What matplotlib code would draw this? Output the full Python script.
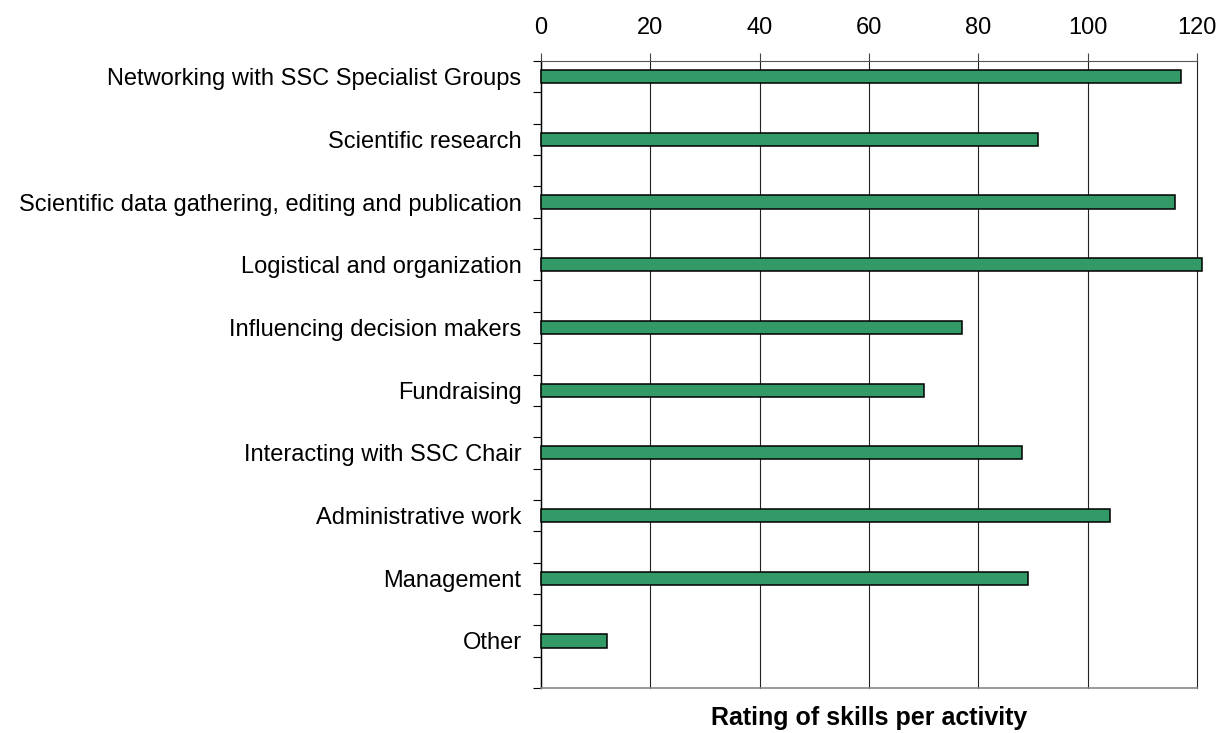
import numpy as np
import matplotlib.pyplot as plt

plt.rcParams['font.family'] = ['Liberation Sans', 'DejaVu Sans']

activities = ["Networking with SSC Specialist Groups",
              "Scientific research",
              "Scientific data gathering, editing and publication",
              "Logistical and organization",
              "Influencing decision makers",
              "Fundraising",
              "Interacting with SSC Chair",
              "Administrative work",
              "Management",
              "Other"]
ratings = [117, 91, 116, 121, 77, 70, 88, 104, 89, 12]
x_ticks = [0, 20, 40, 60, 80, 100, 120]

fig = plt.figure(figsize=(12.21, 7.33), dpi=100)
ax = fig.add_axes([541/1221, 1-688/733, (1197-541)/1221, (688-61)/733])

y = np.arange(len(activities)) + 0.25
ax.barh(y, ratings, height=0.21, color="#339966", edgecolor="black",
        linewidth=1.1, zorder=3, clip_on=False)

ax.set_xlim(0, 120)
ax.set_ylim(len(activities), 0)

ax.xaxis.tick_top()
ax.set_xticks(x_ticks)
ax.tick_params(axis="x", direction="out", length=6, width=0.8, pad=9.5,
               labelsize=17, color="#444444")
ax.grid(axis="x", color="#222222", linewidth=0.8, zorder=0)
for line in ax.get_xgridlines():
    line.set_clip_on(False)

ax.set_yticks(np.arange(0, len(activities) + 0.5, 0.5))
ax.set_yticklabels([])
ax.set_yticks(y, minor=True)
ax.set_yticklabels(activities, minor=True)
ax.tick_params(axis="y", which="major", direction="out", length=6, width=0.8)
ax.tick_params(axis="y", which="minor", length=0, pad=14, labelsize=17)

ax.spines["right"].set_visible(False)
ax.spines["left"].set_color("black")
ax.spines["left"].set_linewidth(1.0)
ax.spines["top"].set_color("#555555")
ax.spines["top"].set_linewidth(0.8)
ax.spines["bottom"].set_color("#888888")
ax.spines["bottom"].set_linewidth(1.2)

ax.set_xlabel("Rating of skills per activity", fontsize=18, fontweight="bold",
              labelpad=13)

fig.savefig("out.png", dpi=100)
